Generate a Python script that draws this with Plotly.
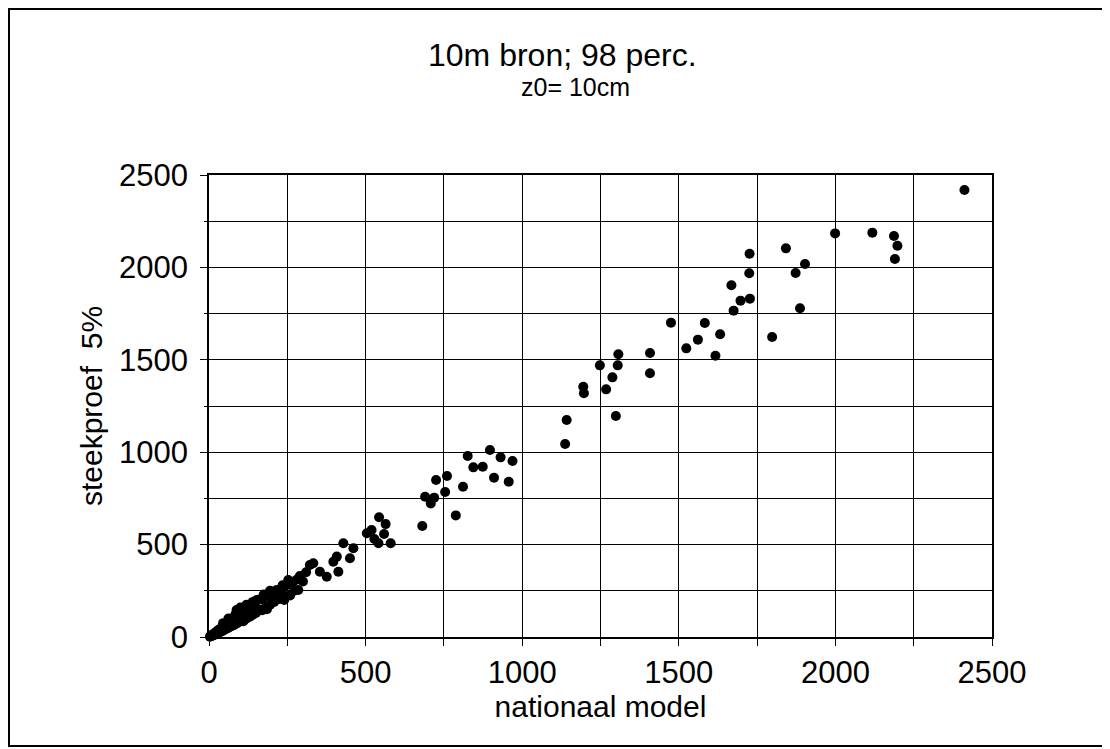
import plotly.graph_objects as go

# low-value dense cluster (nationaal model, steekproef 5%)
dense_x = [3, 6, 9, 12, 15, 18, 20, 24, 27, 30, 33, 36, 40, 43, 46, 50, 53, 56, 60, 63,
           66, 70, 73, 77, 80, 84, 88, 90, 95, 100, 104, 108, 112, 116, 120, 125, 130, 135,
           140, 145, 150, 152, 158, 165, 170, 175, 182, 188, 195, 200, 208, 216, 222, 230,
           238, 245, 253, 259, 265, 272, 280, 290, 300, 310, 322,
           45, 62, 100, 120, 140, 175, 195, 235, 110, 185, 240]
dense_y = [2, 8, 5, 14, 10, 22, 14, 30, 20, 38, 25, 45, 30, 55, 36, 62, 42, 70, 48, 78,
           55, 95, 60, 100, 65, 120, 146, 75, 115, 130, 85, 140, 95, 150, 100, 160, 110, 170,
           120, 180, 130, 200, 150, 205, 145, 215, 165, 225, 175, 235, 190, 254, 205, 260,
           215, 280, 308, 225, 290, 250, 310, 330, 300, 350, 390,
           75, 100, 160, 175, 190, 230, 250, 280, 85, 150, 200]

# middle range
mid_x = [285, 259, 248, 237, 216, 376, 354, 333, 413, 429, 461, 450, 408, 397, 543, 564,
         519, 504, 559, 541, 580, 528, 681, 788, 690, 719, 708, 754, 811, 725, 760, 957,
         910, 844, 874, 969, 931, 826, 897, 1137, 1142]
mid_y = [254, 299, 281, 227, 245, 326, 353, 399, 353, 507, 480, 426, 435, 407, 648, 611,
         579, 561, 557, 507, 507, 530, 601, 658, 759, 754, 723, 785, 813, 850, 871, 840,
         862, 918, 921, 952, 972, 979, 1012, 1044, 1174]

# high range
high_x = [2412, 1999, 2118, 2187, 2198, 2190, 1842, 1726, 1903, 1873, 1725, 1668, 1697,
          1727, 1675, 1887, 1475, 1583, 1632, 1561, 1524, 1617, 1798, 1408, 1408, 1307,
          1305, 1248, 1288, 1268, 1195, 1197, 1299]
high_y = [2419, 2184, 2188, 2170, 2117, 2045, 2103, 2074, 2018, 1970, 1968, 1903, 1820,
          1831, 1766, 1779, 1701, 1699, 1638, 1609, 1562, 1522, 1623, 1537, 1427, 1530,
          1470, 1470, 1405, 1340, 1354, 1319, 1196]

x_all = dense_x + mid_x + high_x
y_all = dense_y + mid_y + high_y

FONT = "Liberation Sans, Arial, sans-serif"

fig = go.Figure()
fig.add_trace(go.Scatter(
    x=x_all, y=y_all, mode="markers",
    marker=dict(symbol="circle", size=10, color="black", line=dict(width=0)),
    cliponaxis=False, showlegend=False,
))

axis_common = dict(
    range=[0, 2500], dtick=500, tick0=0,
    showline=True, linecolor="black", linewidth=1.5, mirror=True,
    showgrid=True, gridcolor="black", gridwidth=1.2,
    zeroline=False,
    ticks="outside", ticklen=7, tickcolor="black", tickwidth=1.2,
    tickfont=dict(family=FONT, size=31, color="black"),
)

fig.update_xaxes(
    **axis_common,
    minor=dict(dtick=250, showgrid=True, gridcolor="black", gridwidth=1.2,
               ticks="outside", ticklen=7, tickcolor="black"),
    title=dict(text="nationaal model", font=dict(family=FONT, size=30, color="black"),
               standoff=0),
)
fig.update_yaxes(
    **axis_common,
    ticklabelstandoff=6,
    minor=dict(dtick=250, showgrid=True, gridcolor="black", gridwidth=1.2,
               ticks="outside", ticklen=3, tickcolor="black"),
    title=dict(text="steekproef  5%", font=dict(family=FONT, size=30, color="black"),
               standoff=8),
)

# The page body has an 8px margin, so the figure is sized to end at the window edge.
fig.update_layout(
    width=1102, height=741,
    margin=dict(l=201, r=118, t=167, b=112),
    paper_bgcolor="white", plot_bgcolor="white",
    font=dict(family=FONT, color="black"),
    annotations=[
        dict(text="10m bron; 98 perc.", xref="paper", yref="paper",
             x=(562 - 209) / 783, y=(637 - 55) / 462, showarrow=False,
             xanchor="center", yanchor="middle",
             font=dict(family=FONT, size=32, color="black")),
        dict(text="z0= 10cm", xref="paper", yref="paper",
             x=(575 - 209) / 783, y=(637 - 87) / 462, showarrow=False,
             xanchor="center", yanchor="middle",
             font=dict(family=FONT, size=25, color="black")),
    ],
    shapes=[
        dict(type="rect", xref="paper", yref="paper",
             x0=(9 - 209) / 783, x1=(1106 - 209) / 783,
             y0=(637 - 746) / 462, y1=(637 - 9) / 462,
             line=dict(color="black", width=2), fillcolor="rgba(0,0,0,0)"),
    ],
)

fig.write_html("out.html")
